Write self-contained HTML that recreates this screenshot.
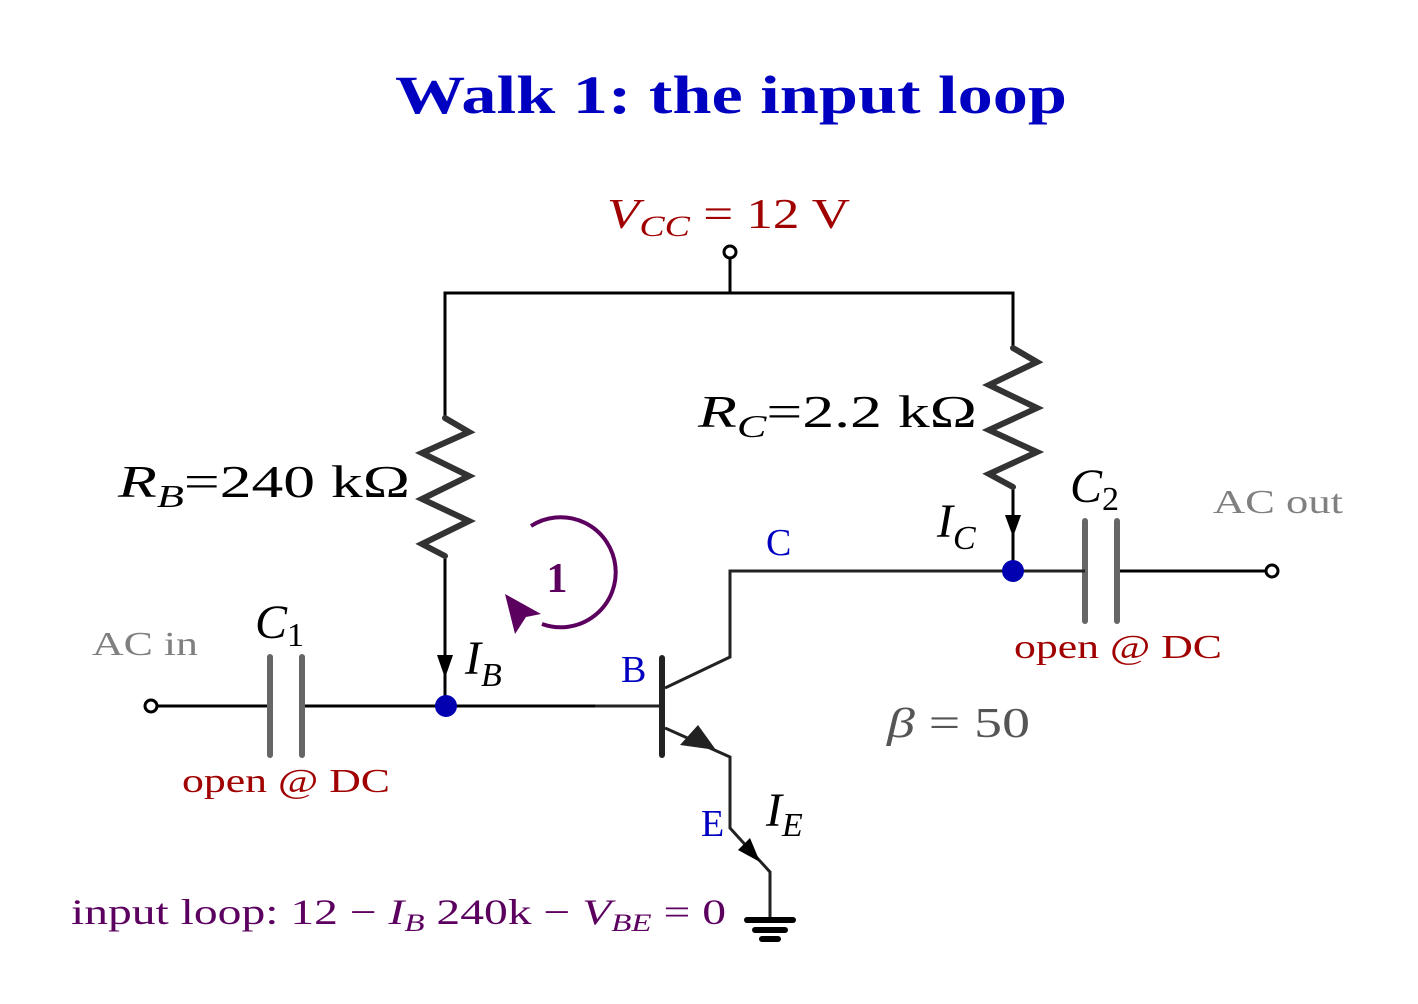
<!DOCTYPE html>
<html><head><meta charset="utf-8"><style>
html,body{margin:0;padding:0;background:#fff;}
svg{display:block;}
text{font-family:"Liberation Serif",serif;}
</style></head><body>
<svg width="1418" height="1004" viewBox="0 0 1418 1004" xmlns="http://www.w3.org/2000/svg">
<text x="395" y="113" font-size="54" font-weight="bold" fill="#0000c0" textLength="672" lengthAdjust="spacingAndGlyphs">Walk 1: the input loop</text>
<text x="607" y="228" font-size="42" fill="#a00000" textLength="243" lengthAdjust="spacingAndGlyphs"><tspan font-style="italic">V</tspan><tspan font-style="italic" font-size="30" dy="8">CC</tspan><tspan dy="-8"> = 12 V</tspan></text>
<g stroke="#000" stroke-width="3" fill="none">
<line x1="730" y1="258" x2="730" y2="293"/>
<polyline points="445,418 445,293 1013,293 1013,348"/>
<line x1="445" y1="556" x2="445" y2="706"/>
<line x1="158" y1="706" x2="270" y2="706"/>
<line x1="302" y1="706" x2="595" y2="706"/>
<line x1="1013" y1="487" x2="1013" y2="571"/>
<line x1="1117" y1="571" x2="1266" y2="571"/>
</g>
<circle cx="730" cy="252" r="6" fill="#fff" stroke="#000" stroke-width="3"/>
<circle cx="151" cy="706" r="6" fill="#fff" stroke="#000" stroke-width="3"/>
<circle cx="1272" cy="571" r="6" fill="#fff" stroke="#000" stroke-width="3"/>
<g stroke="#333" stroke-width="6" fill="none" stroke-linejoin="miter" stroke-linecap="round">
<polyline points="445,418 469,432 422,453 469,476 422,499 469,521 422,544 445,556"/>
<polyline points="1013,348 1037,362 989,385 1037,408 989,430 1037,452 989,474 1013,487"/>
</g>
<g stroke="#666" stroke-width="6" stroke-linecap="round">
<line x1="270" y1="657" x2="270" y2="755"/><line x1="302" y1="657" x2="302" y2="755"/>
<line x1="1085" y1="521" x2="1085" y2="621"/><line x1="1117" y1="521" x2="1117" y2="621"/>
</g>
<polygon points="437,655 453,655 445,678" fill="#000"/>
<polygon points="1005,515 1021,515 1013,537" fill="#000"/>
<g stroke="#222" stroke-width="3" fill="none">
<line x1="595" y1="706" x2="662" y2="706"/>
<polyline points="665,688 730,657 730,571 1085,571"/>
<polyline points="665,728 730,757 730,828 770,872 770,918"/>
</g>
<line x1="662" y1="658" x2="662" y2="755" stroke="#222" stroke-width="6" stroke-linecap="round"/>
<polygon points="680,745 698,725 716,750" fill="#222"/>
<polygon points="738,850 750,838 760,862" fill="#000"/>
<g stroke="#000" stroke-width="6" stroke-linecap="round">
<line x1="747" y1="920" x2="793" y2="920"/><line x1="755" y1="930" x2="785" y2="930"/><line x1="762" y1="939" x2="778" y2="939"/>
</g>
<circle cx="446" cy="706" r="11" fill="#0000b0"/>
<circle cx="1013" cy="571" r="11" fill="#0000b0"/>
<path d="M531,526 A55,55 0 1 1 542,624" stroke="#5c0060" stroke-width="4" fill="none"/>
<polygon points="505,594 541,614 526,617 515,634" fill="#5c0060"/>
<text x="557" y="592" text-anchor="middle" font-size="42" font-weight="bold" fill="#5c0060">1</text>
<text x="118" y="497" font-size="46" fill="#000" textLength="292" lengthAdjust="spacingAndGlyphs"><tspan font-style="italic">R</tspan><tspan font-style="italic" font-size="32" dy="10">B</tspan><tspan dy="-10">=240 kΩ</tspan></text>
<text x="698" y="427" font-size="46" fill="#000" textLength="279" lengthAdjust="spacingAndGlyphs"><tspan font-style="italic">R</tspan><tspan font-style="italic" font-size="32" dy="10">C</tspan><tspan dy="-10">=2.2 kΩ</tspan></text>
<text x="465" y="674" font-size="48" font-style="italic" fill="#000">I<tspan font-size="34" dy="12">B</tspan></text>
<text x="937" y="537" font-size="48" font-style="italic" fill="#000">I<tspan font-size="34" dy="12">C</tspan></text>
<text x="766" y="826" font-size="48" font-style="italic" fill="#000">I<tspan font-size="34" dy="10">E</tspan></text>
<text x="255" y="638" font-size="48" font-style="italic" fill="#000">C<tspan font-style="normal" font-size="34" dy="8">1</tspan></text>
<text x="1070" y="502" font-size="48" font-style="italic" fill="#000">C<tspan font-style="normal" font-size="34" dy="8">2</tspan></text>
<text x="92" y="655" font-size="34" fill="#808080" textLength="106" lengthAdjust="spacingAndGlyphs">AC in</text>
<text x="1213" y="513" font-size="34" fill="#808080" textLength="130" lengthAdjust="spacingAndGlyphs">AC out</text>
<text x="182" y="792" font-size="34" fill="#a00000" textLength="208" lengthAdjust="spacingAndGlyphs">open @ DC</text>
<text x="1014" y="658" font-size="34" fill="#a00000" textLength="208" lengthAdjust="spacingAndGlyphs">open @ DC</text>
<text x="766" y="555" font-size="38" fill="#0000c0">C</text>
<text x="621" y="682" font-size="38" fill="#0000c0">B</text>
<text x="701" y="836" font-size="38" fill="#0000c0">E</text>
<text x="887" y="737" font-size="42" fill="#555" textLength="143" lengthAdjust="spacingAndGlyphs"><tspan font-style="italic">β</tspan> = 50</text>
<text x="71" y="924" font-size="36" fill="#5c0060" textLength="655" lengthAdjust="spacingAndGlyphs">input loop: 12 − <tspan font-style="italic">I</tspan><tspan font-style="italic" font-size="25" dy="7">B</tspan><tspan dy="-7"> 240k − </tspan><tspan font-style="italic">V</tspan><tspan font-style="italic" font-size="25" dy="7">BE</tspan><tspan dy="-7"> = 0</tspan></text>
</svg>
</body></html>
